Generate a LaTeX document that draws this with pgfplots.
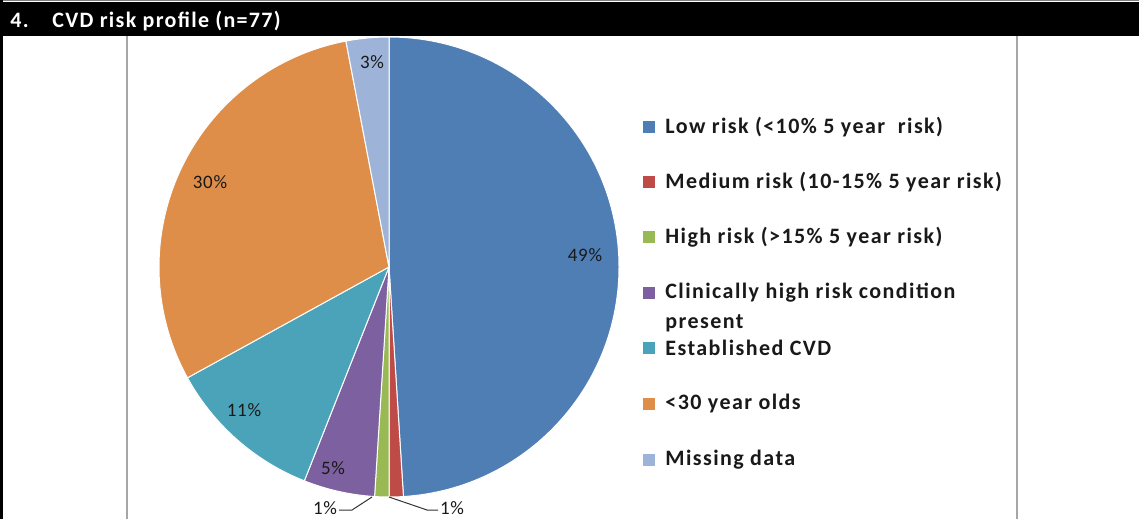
\documentclass[border=0pt]{standalone}
\usepackage{pgfplots}
\pgfplotsset{compat=1.18}
\usepackage{fontspec}
\setmainfont{Carlito}
\newfontfamily\hdfont[LetterSpace=6]{Carlito}
\newfontfamily\lgfont[LetterSpace=6.5]{Carlito}
\newfontfamily\lbfont[LetterSpace=4]{Carlito}
\definecolor{cA}{HTML}{4E7EB4}
\definecolor{cB}{HTML}{BE4B48}
\definecolor{cC}{HTML}{98B954}
\definecolor{cD}{HTML}{7D60A0}
\definecolor{cE}{HTML}{4AA3B8}
\definecolor{cF}{HTML}{DE8E48}
\definecolor{cG}{HTML}{9DB3D8}
\definecolor{boxgray}{HTML}{A6A6A6}
% slice values (percent), clockwise from 12 o'clock
\def\vA{49}\def\vB{1}\def\vC{1}\def\vD{5}\def\vE{11}\def\vF{30}\def\vG{3}
\begin{document}
\begin{tikzpicture}
\begin{axis}[width=569.5pt,height=259.5pt,scale only axis,
  xmin=0,xmax=1139,ymin=0,ymax=519,y dir=reverse,hide axis,clip=false]
\fill[white] (0,0) rectangle (1139,519);
% chart box
\draw[boxgray,line width=0.8pt] (127,36) -- (127,519);
\draw[boxgray,line width=0.8pt] (1017,36) -- (1017,519);
% header
\fill[black] (0,2) rectangle (1139,36);
\draw[gray,line width=0.5pt] (0,1) -- (1139,1);
\fill[black] (0,0) rectangle (3,519);
\node[anchor=base west,text=white,inner sep=0pt,font=\hdfont\fontsize{11}{12}\selectfont\bfseries] at (10,28) {4.};
\node[anchor=base west,text=white,inner sep=0pt,font=\hdfont\fontsize{11}{12}\selectfont\bfseries] at (52,28) {CVD risk profile (n=77)};
% pie slices
\pgfmathsetmacro\aA{90}
\pgfmathsetmacro\aB{90-3.6*\vA}
\pgfmathsetmacro\aC{90-3.6*(\vA+\vB)}
\pgfmathsetmacro\aD{90-3.6*(\vA+\vB+\vC)}
\pgfmathsetmacro\aE{90-3.6*(\vA+\vB+\vC+\vD)}
\pgfmathsetmacro\aF{90-3.6*(\vA+\vB+\vC+\vD+\vE)}
\pgfmathsetmacro\aG{90-3.6*(\vA+\vB+\vC+\vD+\vE+\vF)}
\pgfmathsetmacro\aH{90-3.6*(\vA+\vB+\vC+\vD+\vE+\vF+\vG)}
\fill[cA,draw=white,line width=0.5pt] (389,267) -- ++(\aA:115pt) arc[start angle=\aA,end angle=\aB,radius=115pt] -- cycle;
\fill[cB,draw=white,line width=0.5pt] (389,267) -- ++(\aB:115pt) arc[start angle=\aB,end angle=\aC,radius=115pt] -- cycle;
\fill[cC,draw=white,line width=0.5pt] (389,267) -- ++(\aC:115pt) arc[start angle=\aC,end angle=\aD,radius=115pt] -- cycle;
\fill[cD,draw=white,line width=0.5pt] (389,267) -- ++(\aD:115pt) arc[start angle=\aD,end angle=\aE,radius=115pt] -- cycle;
\fill[cE,draw=white,line width=0.5pt] (389,267) -- ++(\aE:115pt) arc[start angle=\aE,end angle=\aF,radius=115pt] -- cycle;
\fill[cF,draw=white,line width=0.5pt] (389,267) -- ++(\aF:115pt) arc[start angle=\aF,end angle=\aG,radius=115pt] -- cycle;
\fill[cG,draw=white,line width=0.5pt] (389,267) -- ++(\aG:115pt) arc[start angle=\aG,end angle=\aH,radius=115pt] -- cycle;
% slice labels
\tikzset{pl/.style={font=\lbfont\fontsize{9.5}{10}\selectfont,text=black!90,inner sep=0pt}}
\node[pl] at (585,255) {49\%};
\node[pl] at (210,182) {30\%};
\node[pl] at (244,410) {11\%};
\node[pl] at (333,468) {5\%};
\node[pl] at (372,62) {3\%};
\node[pl] at (452,508) {1\%};
\node[pl] at (325,508) {1\%};
\draw[black!80,line width=0.5pt] (389,497) -- (427,510) -- (438,510);
\draw[black!80,line width=0.5pt] (372,497) -- (352,510) -- (339,510);
% legend
\tikzset{lt/.style={anchor=west,font=\lgfont\fontsize{11}{12}\selectfont\bfseries,text=black!90,inner sep=0pt}}
\fill[cA] (643,121) rectangle (655,133); \node[lt] at (665,127) {Low risk (<10\% 5 year\ \ risk)};
\fill[cB] (643,176) rectangle (655,188); \node[lt] at (665,182) {Medium risk (10-15\% 5 year risk)};
\fill[cC] (643,231) rectangle (655,243); \node[lt] at (665,237) {High risk (>15\% 5 year risk)};
\fill[cD] (643,287) rectangle (655,299); \node[lt] at (665,293) {Clinically high risk condition};
\node[lt] at (665,323) {present};
\fill[cE] (643,342) rectangle (655,354); \node[lt] at (665,348) {Established CVD};
\fill[cF] (643,398) rectangle (655,410); \node[lt] at (665,404) {<30 year olds};
\fill[cG] (643,454) rectangle (655,466); \node[lt] at (665,460) {Missing data};
\end{axis}
\pgfresetboundingbox
\path (current axis.south west) rectangle (current axis.north east);
\end{tikzpicture}
\end{document}
